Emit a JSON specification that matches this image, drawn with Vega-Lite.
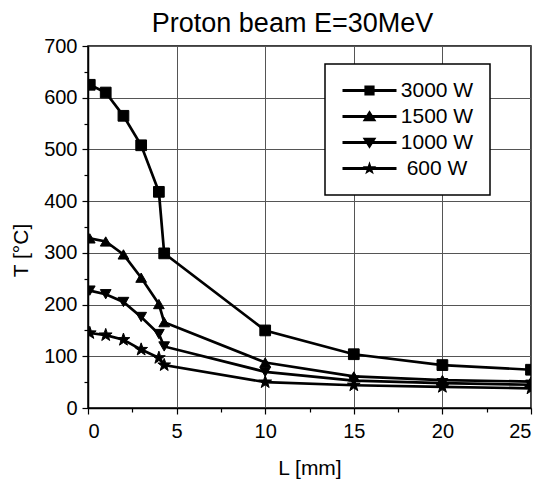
{
  "$schema": "https://vega.github.io/schema/vega-lite/v6.json",
  "autosize": "none",
  "width": 443,
  "height": 362,
  "padding": {"left": 88, "top": 46, "right": 15, "bottom": 74},
  "background": "white",
  "title": {"text": "Proton beam E=30MeV", "font": "Liberation Sans", "fontSize": 27, "fontWeight": "normal", "color": "black", "anchor": "middle", "dx": -17, "baseline": "alphabetic", "offset": -23},
  "data": {"values": [
    {"L": 0.1, "T": 625, "series": "3000 W"}, {"L": 1, "T": 610, "series": "3000 W"}, {"L": 2, "T": 565, "series": "3000 W"}, {"L": 3, "T": 508, "series": "3000 W"}, {"L": 4, "T": 418, "series": "3000 W"}, {"L": 4.3, "T": 299, "series": "3000 W"}, {"L": 10, "T": 150, "series": "3000 W"}, {"L": 15, "T": 104, "series": "3000 W"}, {"L": 20, "T": 83, "series": "3000 W"}, {"L": 25, "T": 74, "series": "3000 W"},
    {"L": 0.1, "T": 328, "series": "1500 W"}, {"L": 1, "T": 322, "series": "1500 W"}, {"L": 2, "T": 297, "series": "1500 W"}, {"L": 3, "T": 252, "series": "1500 W"}, {"L": 4, "T": 201, "series": "1500 W"}, {"L": 4.3, "T": 166, "series": "1500 W"}, {"L": 10, "T": 88, "series": "1500 W"}, {"L": 15, "T": 61, "series": "1500 W"}, {"L": 20, "T": 54, "series": "1500 W"}, {"L": 25, "T": 51, "series": "1500 W"},
    {"L": 0.1, "T": 227, "series": "1000 W"}, {"L": 1, "T": 220, "series": "1000 W"}, {"L": 2, "T": 205, "series": "1000 W"}, {"L": 3, "T": 176, "series": "1000 W"}, {"L": 4, "T": 143, "series": "1000 W"}, {"L": 4.3, "T": 119, "series": "1000 W"}, {"L": 10, "T": 70, "series": "1000 W"}, {"L": 15, "T": 53, "series": "1000 W"}, {"L": 20, "T": 48, "series": "1000 W"}, {"L": 25, "T": 45, "series": "1000 W"},
    {"L": 0.1, "T": 145, "series": "600 W"}, {"L": 1, "T": 141, "series": "600 W"}, {"L": 2, "T": 132, "series": "600 W"}, {"L": 3, "T": 113, "series": "600 W"}, {"L": 4, "T": 97, "series": "600 W"}, {"L": 4.3, "T": 83, "series": "600 W"}, {"L": 10, "T": 50, "series": "600 W"}, {"L": 15, "T": 44, "series": "600 W"}, {"L": 20, "T": 41, "series": "600 W"}, {"L": 25, "T": 38, "series": "600 W"}
  ]},
  "encoding": {
    "x": {"field": "L", "type": "quantitative", "scale": {"domain": [0, 25], "nice": false, "zero": false},
      "axis": {"title": "L [mm]", "values": [0, 2.5, 5, 7.5, 10, 12.5, 15, 17.5, 20, 22.5, 25],
        "labelExpr": "datum.value % 5 === 0 ? datum.label : ''",
        "tickSize": {"condition": {"test": "datum.value % 5 === 0", "value": 6}, "value": 4},
        "gridOpacity": {"condition": {"test": "datum.value % 5 === 0", "value": 1}, "value": 0},
        "labelPadding": 7, "titleY": 66, "titleBaseline": "alphabetic"}},
    "y": {"field": "T", "type": "quantitative", "scale": {"domain": [0, 700], "nice": false},
      "axis": {"title": "T [°C]", "values": [0, 50, 100, 150, 200, 250, 300, 350, 400, 450, 500, 550, 600, 650, 700],
        "labelExpr": "datum.value % 100 === 0 ? datum.label : ''",
        "tickSize": {"condition": {"test": "datum.value % 100 === 0", "value": 6}, "value": 4},
        "gridOpacity": {"condition": {"test": "datum.value % 100 === 0", "value": 1}, "value": 0},
        "labelPadding": 5, "titleX": -61, "titleY": 204, "titleBaseline": "alphabetic", "titleAngle": -90}}
  },
  "layer": [
    {"mark": {"type": "line", "color": "black", "strokeWidth": 2.7, "clip": true},
     "encoding": {"detail": {"field": "series", "type": "nominal"}}},
    {"mark": {"type": "point", "filled": true, "color": "black", "stroke": "black", "strokeWidth": 1, "opacity": 1, "size": 115, "clip": true},
     "encoding": {"shape": {"field": "series", "type": "nominal",
       "scale": {"domain": ["3000 W", "1500 W", "1000 W", "600 W"],
         "range": ["square", "triangle-up", "triangle-down", "M0,-1.25L0.29,-0.41L1.19,-0.39L0.48,0.16L0.74,1.01L0,0.5L-0.74,1.01L-0.48,0.16L-1.19,-0.39L-0.29,-0.41Z"]},
       "legend": null}}},
    {"mark": {"type": "point", "filled": true, "color": "black", "fill": "black", "strokeWidth": 0, "opacity": 0, "size": 144, "clip": true},
     "encoding": {"shape": {"field": "series", "type": "nominal",
       "scale": {"domain": ["3000 W", "1500 W", "1000 W", "600 W"],
         "range": ["M-4.5,-0.24H4.5V0.24H-4.5ZM-0.85,-0.85H0.85V0.85H-0.85Z", "M-4.5,-0.24H4.5V0.24H-4.5ZM0,-1.05L1.15,0.8H-1.15Z", "M-4.5,-0.24H4.5V0.24H-4.5ZM0,1.05L-1.15,-0.8H1.15Z", "M-4.5,-0.24H4.5V0.24H-4.5ZM0,-1.2L0.28,-0.39L1.14,-0.37L0.46,0.15L0.71,0.97L0,0.48L-0.71,0.97L-0.46,0.15L-1.14,-0.37L-0.28,-0.39Z"]},
       "legend": {"title": null, "orient": "none", "legendX": 237, "legendY": 18,
         "symbolSize": 144, "symbolFillColor": "black", "symbolStrokeWidth": 0, "symbolOpacity": 1,
         "symbolOffset": 18, "labelOffset": 57, "labelAlign": "center",
         "labelFontSize": 21, "labelFont": "Liberation Sans", "labelColor": "black",
         "strokeColor": "black", "fillColor": "white", "padding": 16, "rowPadding": 4,
         "encode": {"symbols": {"fill": {"value": "black"}, "fillOpacity": {"value": 1}, "opacity": {"value": 1}, "strokeWidth": {"value": 0}}}}}}}
  ],
  "resolve": {"scale": {"shape": "independent"}, "legend": {"shape": "independent"}},
  "config": {
    "view": {"stroke": "black", "strokeWidth": 1.5},
    "axis": {"domainColor": "black", "domainWidth": 1.5, "tickColor": "black", "tickWidth": 1.2,
      "gridColor": "#555555", "gridWidth": 1,
      "labelFont": "Liberation Sans", "labelFontSize": 20, "labelColor": "black",
      "titleFont": "Liberation Sans", "titleFontSize": 21, "titleFontWeight": "normal", "titleColor": "black"},
    "legend": {"strokeWidth": 1.5}
  }
}
